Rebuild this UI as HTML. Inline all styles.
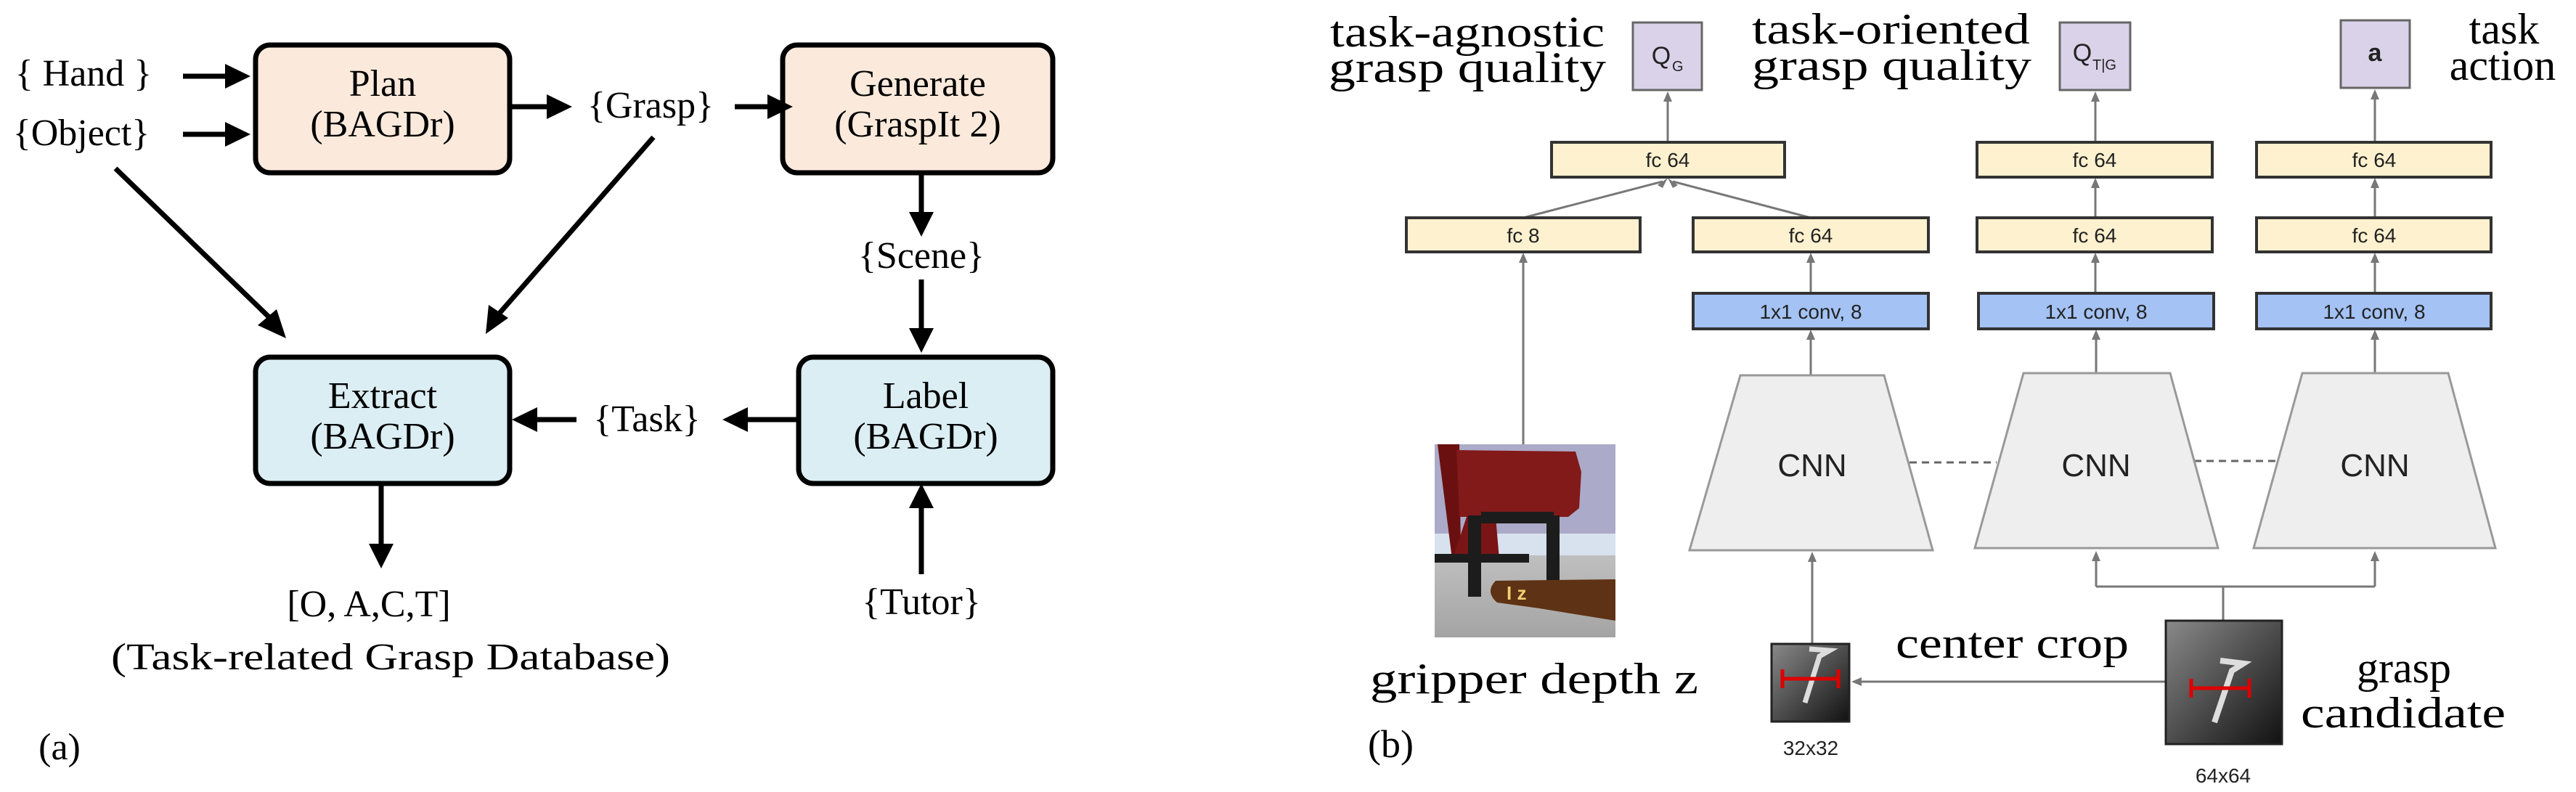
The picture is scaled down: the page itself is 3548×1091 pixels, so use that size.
<!DOCTYPE html>
<html><head><meta charset="utf-8"><style>
html,body{margin:0;padding:0;background:#fff;}
svg{display:block;}
.s{font-family:"Liberation Serif",serif;fill:#000;}
.ss{font-family:"Liberation Sans",sans-serif;fill:#222;}
</style></head><body>
<svg width="3548" height="1091" viewBox="0 0 3548 1091" xmlns="http://www.w3.org/2000/svg">
<defs>
<linearGradient id="fl" x1="0" y1="0" x2="0" y2="1"><stop offset="0" stop-color="#e4e4e4"/><stop offset="1" stop-color="#a4a4a4"/></linearGradient>
<linearGradient id="th" x1="0" y1="0" x2="1" y2="1"><stop offset="0" stop-color="#8a8a8a"/><stop offset="1" stop-color="#111"/></linearGradient>
</defs>

<!-- ============ LEFT PANEL ============ -->
<g stroke="#000" stroke-width="7" fill="#fbeadc">
<rect x="352" y="62" width="350" height="176" rx="20"/>
<rect x="1078" y="62" width="372" height="176" rx="20"/>
</g>
<g stroke="#000" stroke-width="7" fill="#dbeef4">
<rect x="352" y="492" width="350" height="174" rx="20"/>
<rect x="1100" y="492" width="350" height="174" rx="20"/>
</g>
<g class="s" font-size="52" text-anchor="middle">
<text x="527" y="132">Plan</text>
<text x="527" y="188">(BAGDr)</text>
<text x="1264" y="132">Generate</text>
<text x="1264" y="188">(GraspIt 2)</text>
<text x="527" y="562">Extract</text>
<text x="527" y="618">(BAGDr)</text>
<text x="1275" y="562">Label</text>
<text x="1275" y="618">(BAGDr)</text>
<text x="115" y="118">{ Hand }</text>
<text x="112" y="200">{Object}</text>
<text x="896" y="162">{Grasp}</text>
<text x="1269" y="369">{Scene}</text>
<text x="891" y="594">{Task}</text>
<text x="508" y="849">[O, A,C,T]</text>
<text x="538" y="922" textLength="770" lengthAdjust="spacingAndGlyphs">(Task-related Grasp Database)</text>
<text x="1269" y="846">{Tutor}</text>
<text x="82" y="1046">(a)</text>
</g>
<g stroke="#000" stroke-width="7" fill="none">
<line x1="252" y1="105" x2="318" y2="105"/>
<line x1="252" y1="185" x2="318" y2="185"/>
<line x1="704" y1="147" x2="762" y2="147"/>
<line x1="1012" y1="147" x2="1066" y2="147"/>
<line x1="1269" y1="238" x2="1269" y2="300"/>
<line x1="1269" y1="385" x2="1269" y2="458"/>
<line x1="1100" y1="578" x2="1020" y2="578"/>
<line x1="794" y1="578" x2="730" y2="578"/>
<line x1="525" y1="666" x2="525" y2="756"/>
<line x1="1269" y1="791" x2="1269" y2="692"/>
<line x1="159" y1="232" x2="378" y2="444"/>
<line x1="900" y1="189" x2="684" y2="436"/>
</g>
<g fill="#000">
<polygon points="345,105 310,88 310,122"/>
<polygon points="345,185 310,168 310,202"/>
<polygon points="788,147 753,130 753,164"/>
<polygon points="1092,147 1057,130 1057,164"/>
<polygon points="1269,326 1252,292 1286,292"/>
<polygon points="1269,486 1252,452 1286,452"/>
<polygon points="995,578 1030,561 1030,595"/>
<polygon points="705,578 740,561 740,595"/>
<polygon points="525,783 508,749 542,749"/>
<polygon points="1269,666 1252,700 1286,700"/>
<polygon points="394,466 355,448 381,426"/>
<polygon points="669,460 673,420 700,438"/>
</g>

<!-- ============ RIGHT PANEL ============ -->
<g class="s" font-size="60">
<text x="1832" y="64" textLength="378" lengthAdjust="spacingAndGlyphs">task-agnostic</text>
<text x="1830" y="113" textLength="382" lengthAdjust="spacingAndGlyphs">grasp quality</text>
<text x="2413" y="60" textLength="383" lengthAdjust="spacingAndGlyphs">task-oriented</text>
<text x="2413" y="110" textLength="385" lengthAdjust="spacingAndGlyphs">grasp quality</text>
<text x="3449" y="60" text-anchor="middle">task</text>
<text x="3447" y="110" text-anchor="middle">action</text>
<text x="1887" y="955" textLength="452" lengthAdjust="spacingAndGlyphs">gripper depth z</text>
<text x="2611" y="906" textLength="321" lengthAdjust="spacingAndGlyphs">center crop</text>
<text x="3311" y="940" text-anchor="middle">grasp</text>
<text x="3310" y="1002" text-anchor="middle" textLength="282" lengthAdjust="spacingAndGlyphs">candidate</text>
<text x="1884" y="1043" font-size="54">(b)</text>
</g>

<!-- connectors -->
<g stroke="#777" stroke-width="3" fill="none">
<line x1="2297" y1="196" x2="2297" y2="135"/>
<line x1="2886" y1="196" x2="2886" y2="135"/>
<line x1="3271" y1="196" x2="3271" y2="132"/>
<line x1="2098" y1="300" x2="2290" y2="250"/>
<line x1="2494" y1="300" x2="2304" y2="250"/>
<line x1="2886" y1="300" x2="2886" y2="252"/>
<line x1="3271" y1="300" x2="3271" y2="252"/>
<line x1="2494" y1="404" x2="2494" y2="355"/>
<line x1="2886" y1="404" x2="2886" y2="355"/>
<line x1="3271" y1="404" x2="3271" y2="355"/>
<line x1="2494" y1="517" x2="2494" y2="461"/>
<line x1="2887" y1="514" x2="2887" y2="461"/>
<line x1="3271" y1="514" x2="3271" y2="461"/>
<line x1="2098" y1="616" x2="2098" y2="355"/>
<line x1="2496" y1="886" x2="2496" y2="768"/>
<line x1="3062" y1="855" x2="3062" y2="808"/>
<line x1="2887" y1="808" x2="3271" y2="808"/>
<line x1="2887" y1="808" x2="2887" y2="766"/>
<line x1="3271" y1="808" x2="3271" y2="766"/>
<line x1="2983" y1="939" x2="2560" y2="939"/>
</g>
<g stroke="#666" stroke-width="3" stroke-dasharray="10,7">
<line x1="2630" y1="637" x2="2750" y2="637"/>
<line x1="3022" y1="635" x2="3140" y2="635"/>
</g>
<g fill="#777">
<polygon points="2297,126 2291,140 2303,140"/>
<polygon points="2886,126 2880,140 2892,140"/>
<polygon points="3271,123 3265,137 3277,137"/>
<polygon points="2297,245 2283,255 2290,259"/>
<polygon points="2297,245 2304,259 2311,255"/>
<polygon points="2886,245 2880,259 2892,259"/>
<polygon points="3271,245 3265,259 3277,259"/>
<polygon points="2494,348 2488,362 2500,362"/>
<polygon points="2886,348 2880,362 2892,362"/>
<polygon points="3271,348 3265,362 3277,362"/>
<polygon points="2098,348 2092,362 2104,362"/>
<polygon points="2494,454 2488,468 2500,468"/>
<polygon points="2887,454 2881,468 2893,468"/>
<polygon points="3271,454 3265,468 3277,468"/>
<polygon points="2496,760 2490,774 2502,774"/>
<polygon points="2887,759 2881,773 2893,773"/>
<polygon points="3271,759 3265,773 3277,773"/>
<polygon points="2550,939 2564,933 2564,945"/>
</g>

<!-- output boxes -->
<g fill="#d9d2e9" stroke="#666" stroke-width="3">
<rect x="2249" y="31" width="95" height="93"/>
<rect x="2837" y="31" width="97" height="93"/>
<rect x="3224" y="28" width="95" height="93"/>
</g>
<g class="ss" fill="#222">
<text x="2288" y="88" font-size="34" text-anchor="middle">Q</text>
<text x="2303" y="98" font-size="20">G</text>
<text x="2868" y="84" font-size="34" text-anchor="middle">Q</text>
<text x="2882" y="96" font-size="20">T|G</text>
<text x="3271" y="84" font-size="34" text-anchor="middle" font-weight="bold">a</text>
</g>

<!-- fc boxes -->
<g fill="#fdf1cf" stroke="#333" stroke-width="4">
<rect x="2137" y="196" width="321" height="48"/>
<rect x="2723" y="196" width="324" height="48"/>
<rect x="3108" y="196" width="323" height="48"/>
<rect x="1937" y="300" width="322" height="47"/>
<rect x="2332" y="300" width="324" height="47"/>
<rect x="2723" y="300" width="324" height="47"/>
<rect x="3108" y="300" width="323" height="47"/>
</g>
<g fill="#a4c2f4" stroke="#333" stroke-width="4">
<rect x="2332" y="404" width="324" height="49"/>
<rect x="2725" y="404" width="324" height="49"/>
<rect x="3108" y="404" width="323" height="49"/>
</g>
<g class="ss" font-size="28" text-anchor="middle" fill="#333">
<text x="2297" y="230">fc 64</text>
<text x="2885" y="230">fc 64</text>
<text x="3270" y="230">fc 64</text>
<text x="2098" y="334">fc 8</text>
<text x="2494" y="334">fc 64</text>
<text x="2885" y="334">fc 64</text>
<text x="3270" y="334">fc 64</text>
<text x="2494" y="439">1x1 conv, 8</text>
<text x="2887" y="439">1x1 conv, 8</text>
<text x="3270" y="439">1x1 conv, 8</text>
</g>

<!-- CNN trapezoids -->
<g fill="#eeeeee" stroke="#999" stroke-width="3">
<polygon points="2397,517 2595,517 2662,758 2327,758"/>
<polygon points="2787,514 2989,514 3055,755 2720,755"/>
<polygon points="3171,514 3372,514 3437,755 3104,755"/>
</g>
<g class="ss" font-size="44" text-anchor="middle" fill="#333">
<text x="2496" y="656">CNN</text>
<text x="2887" y="656">CNN</text>
<text x="3271" y="656">CNN</text>
</g>

<!-- gripper image -->
<g>
<rect x="1976" y="612" width="249" height="266" fill="url(#fl)"/>
<rect x="1976" y="612" width="249" height="125" fill="#abaac8"/>
<rect x="1976" y="735" width="249" height="30" fill="#d8e2ee"/>
<path d="M1980,612 L2010,612 L2012,760 L2000,770 Z" fill="#6a1010"/>
<path d="M2006,620 L2170,622 L2178,650 L2175,700 L2160,712 L2010,712 Z" fill="#821a1a"/>
<path d="M2020,712 L2060,712 L2065,770 L2000,772 Z" fill="#7a1515"/>
<rect x="2022" y="710" width="18" height="112" fill="#1c1c1c"/>
<rect x="2130" y="710" width="18" height="90" fill="#1c1c1c"/>
<rect x="2040" y="705" width="100" height="16" fill="#1c1c1c"/>
<rect x="1976" y="763" width="130" height="12" fill="#1c1c1c"/>
<path d="M2060,800 L2225,798 L2225,855 L2120,838 L2062,830 Q2045,815 2060,800 Z" fill="#5e3214"/>
<text x="2075" y="826" font-family="Liberation Sans,sans-serif" font-size="26" fill="#f0d070" font-weight="bold">I z</text>
</g>

<!-- thumbnails -->
<g>
<rect x="2440" y="887" width="107" height="107" fill="url(#th)" stroke="#222" stroke-width="3"/>
<path d="M2492,894 L2520,896 L2506,904 L2486,968" stroke="#ddd" stroke-width="7" fill="none"/>
<g stroke="#d00" stroke-width="5"><line x1="2455" y1="935" x2="2532" y2="935"/><line x1="2455" y1="922" x2="2455" y2="948"/><line x1="2532" y1="922" x2="2532" y2="948"/></g>
<rect x="2983" y="855" width="160" height="170" fill="url(#th)" stroke="#222" stroke-width="3"/>
<path d="M3058,910 L3090,914 L3074,924 L3050,995" stroke="#ddd" stroke-width="8" fill="none"/>
<g stroke="#d00" stroke-width="5"><line x1="3018" y1="948" x2="3098" y2="948"/><line x1="3018" y1="935" x2="3018" y2="961"/><line x1="3098" y1="935" x2="3098" y2="961"/></g>
</g>
<g class="ss" font-size="28" text-anchor="middle" fill="#444">
<text x="2494" y="1040">32x32</text>
<text x="3062" y="1078">64x64</text>
</g>
</svg>
</body></html>
